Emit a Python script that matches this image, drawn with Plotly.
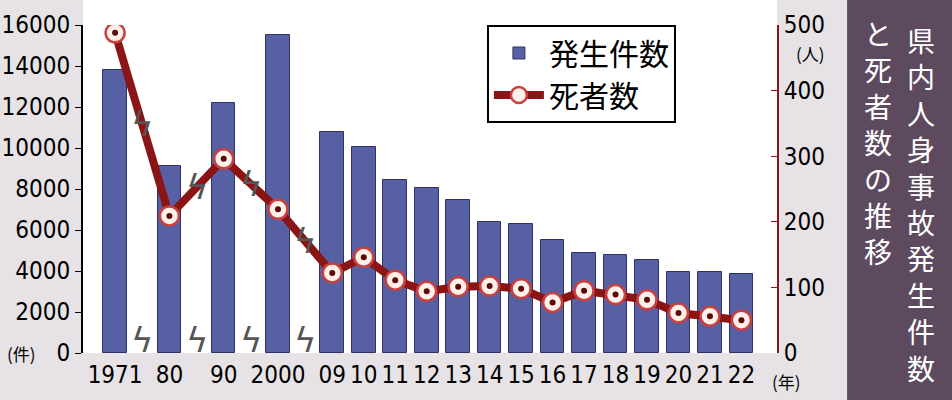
import plotly.graph_objects as go
import numpy as np

# 県内人身事故発生件数と死者数の推移
year_labels = ["1971", "80", "90", "2000", "09", "10", "11", "12", "13",
               "14", "15", "16", "17", "18", "19", "20", "21", "22"]
accidents = [13800, 9100, 12200, 15500, 10800, 10050, 8450, 8050, 7450,
             6400, 6300, 5500, 4900, 4800, 4550, 3950, 3950, 3850]
deaths = [488, 209, 296, 219, 122, 146, 111, 94, 101,
          102, 98, 77, 95, 89, 81, 61, 56, 50]
left_ticks = [0, 2000, 4000, 6000, 8000, 10000, 12000, 14000, 16000]
right_ticks = [0, 100, 200, 300, 400, 500]

title_col1 = "県内人身事故発生件数"
title_col2 = "と死者数の推移"

# slot widths: the first four gaps are broken (omitted years)
n_breaks = 4
steps = [1.725] * n_breaks + [1.0] * (len(year_labels) - 1 - n_breaks)
xpos = np.concatenate([[0.0], np.cumsum(steps)])

NUM_FONT = "DejaVu Sans Condensed"
JP_FONT = "Noto Sans CJK JP, sans-serif"
BAR_COLOR = "#5660a2"
LINE_COLOR = "#8b1414"

fig = go.Figure()

fig.add_trace(go.Bar(
    x=xpos, y=accidents,
    width=0.75,
    marker=dict(color=BAR_COLOR, line=dict(color="#2e3366", width=1)),
    name="発生件数",
))

fig.add_trace(go.Scatter(
    x=xpos, y=deaths,
    yaxis="y2",
    mode="lines+markers",
    line=dict(color=LINE_COLOR, width=8),
    marker=dict(size=19, color="#fff1ea", line=dict(color="#c84040", width=2.5)),
    name="死者数",
))

# dark centre dots of the markers
fig.add_trace(go.Scatter(
    x=xpos, y=deaths,
    yaxis="y2",
    mode="markers",
    marker=dict(size=6, color="#5a0a0a"),
    showlegend=False,
    hoverinfo="skip",
))

annotations = []

# break marks on the axis and on the line
for i in range(n_breaks):
    xm = (xpos[i] + xpos[i + 1]) / 2
    annotations.append(dict(
        x=xm, y=0.04, xref="x", yref="paper", text="ϟ", showarrow=False,
        xanchor="center", yanchor="middle",
        font=dict(size=34, color="#555555", family="DejaVu Sans"),
    ))
    annotations.append(dict(
        x=xm, y=(deaths[i] + deaths[i + 1]) / 2, xref="x", yref="y2",
        text="ϟ", showarrow=False, xanchor="center", yanchor="middle",
        font=dict(size=34, color="#555555", family="DejaVu Sans"),
    ))

# unit labels
annotations.append(dict(x=-0.088, y=0.0, xref="paper", yref="paper", text="(件)",
                        xanchor="center", yanchor="middle",
                        showarrow=False, font=dict(size=17, color="black", family=JP_FONT)))
annotations.append(dict(x=1.048, y=0.912, xref="paper", yref="paper", text="(人)",
                        xanchor="center", yanchor="middle",
                        showarrow=False, font=dict(size=17, color="black", family=JP_FONT)))
annotations.append(dict(x=1.013, y=-0.088, xref="paper", yref="paper", text="(年)",
                        xanchor="center", yanchor="middle",
                        showarrow=False, font=dict(size=17, color="black", family=JP_FONT)))

# vertical title: one character per line
def px_to_paper_y(ypx):
    return (353 - ypx) / 328

annotations.append(dict(x=1.207, y=px_to_paper_y(204), xref="paper", yref="paper",
                        text="<br>".join(title_col1), showarrow=False,
                        xanchor="center", yanchor="middle",
                        font=dict(size=28, color="white", family=JP_FONT)))
annotations.append(dict(x=1.146, y=px_to_paper_y(142), xref="paper", yref="paper",
                        text="<br>".join(title_col2), showarrow=False,
                        xanchor="center", yanchor="middle",
                        font=dict(size=28, color="white", family=JP_FONT)))

shapes = [
    # white area above the plot
    dict(type="rect", xref="paper", yref="paper", x0=0, x1=1, y0=0, y1=1.2,
         fillcolor="white", line=dict(width=0), layer="below"),
    # title band
    dict(type="rect", xref="paper", yref="paper", x0=1.101, x1=1.3, y0=-0.3, y1=1.2,
         fillcolor="#5d4a5f", line=dict(width=0), layer="below"),
]

fig.update_layout(
    width=952, height=400,
    margin=dict(l=83, r=175, t=25, b=47, autoexpand=False),
    paper_bgcolor="#e6e2e5",
    plot_bgcolor="white",
    bargap=0,
    xaxis=dict(
        tickvals=xpos, ticktext=year_labels, tickangle=0, automargin=False,
        range=[-1.02, 21.03], ticklabelstandoff=5,
        showline=False, showgrid=False, zeroline=False, ticks="",
        tickfont=dict(size=24, color="black", family=NUM_FONT),
    ),
    yaxis=dict(
        range=[0, 16000], tickvals=left_ticks, ticktext=[str(v) for v in left_ticks],
        automargin=False,
        showline=True, linecolor="black", linewidth=2,
        ticks="outside", ticklen=6, tickcolor="black",
        showgrid=False, zeroline=False,
        tickfont=dict(size=24, color="black", family=NUM_FONT),
    ),
    yaxis2=dict(
        overlaying="y", side="right", automargin=False,
        range=[0, 500], tickvals=right_ticks, ticktext=[str(v) for v in right_ticks],
        showline=True, linecolor=LINE_COLOR, linewidth=2,
        ticks="inside", ticklen=6, tickcolor=LINE_COLOR,
        showgrid=False, zeroline=False,
        tickfont=dict(size=24, color="black", family=NUM_FONT),
    ),
    legend=dict(
        x=0.582, y=1.0, xanchor="left", yanchor="top",
        bgcolor="white", bordercolor="black", borderwidth=2,
        font=dict(size=30, color="black", family=JP_FONT),
        tracegroupgap=0, itemwidth=50,
    ),
    annotations=annotations,
    shapes=shapes,
)

fig.write_html("out.html", config={"displayModeBar": False},
               post_script="document.body.style.margin = '0';")
